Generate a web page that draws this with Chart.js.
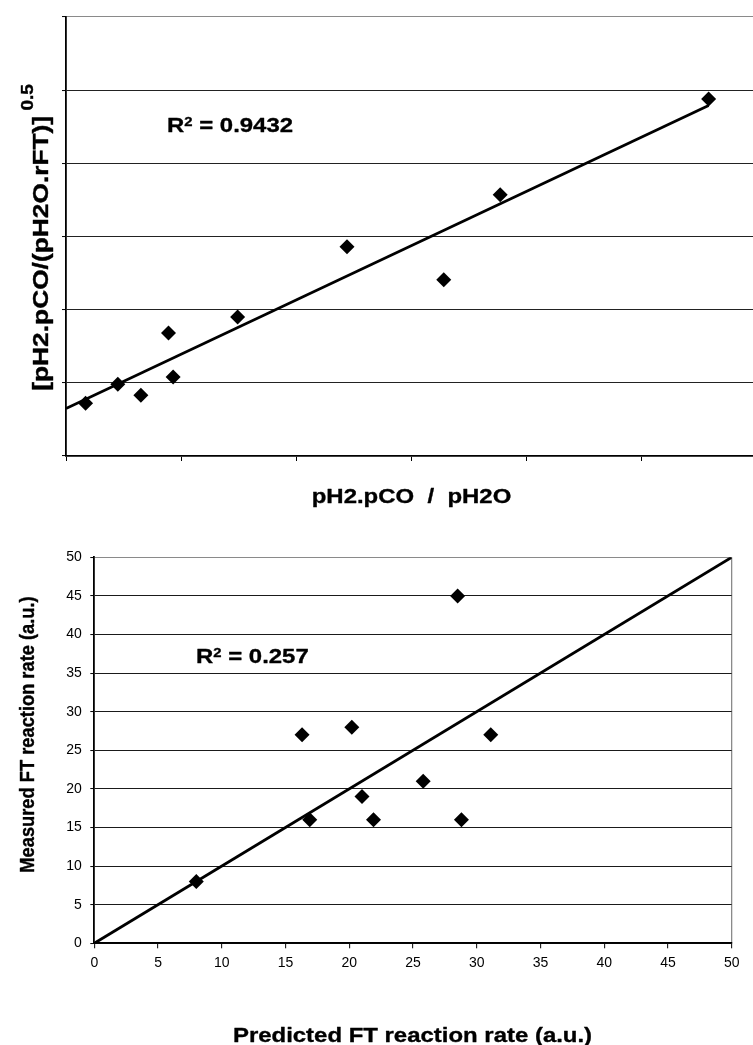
<!DOCTYPE html>
<html>
<head>
<meta charset="utf-8">
<title>FT reaction rate correlation</title>
<script src="https://cdn.jsdelivr.net/npm/chart.js@4/dist/chart.umd.min.js"></script>
<style>
  html, body { margin: 0; padding: 0; background: #fff; overflow: hidden; width: 753px; height: 1045px; }
  #ratioChart { position: absolute; left: 0; top: 0; }
  #parityChart { position: absolute; left: 0; top: 520px; }
</style>
</head>
<body>
<canvas id="ratioChart" width="765" height="520"></canvas>
<canvas id="parityChart" width="753" height="525"></canvas>
<script>
// ---- Upper panel: linearised rate expression ----
const ratioX = [0.17, 0.45, 0.65, 0.89, 0.93, 1.49, 2.44, 3.28, 3.77, 5.58];
const ratioY = [0.72, 0.98, 0.83, 1.68, 1.08, 1.90, 2.86, 2.41, 3.57, 4.88];
const ratioFitX = [0, 5.58];
const ratioFitY = [0.65, 4.79];
const ratioTicksX = [0, 1, 2, 3, 4, 5, 6];
const ratioTicksY = [0, 1, 2, 3, 4, 5, 6];
const ratioR2 = '0.9432';

// ---- Lower panel: measured vs predicted FT rate ----
const predictedRate = [8, 16.3, 16.9, 20.2, 21.0, 21.9, 25.8, 28.5, 28.8, 31.1];
const measuredRate  = [8, 27, 16, 28, 19, 16, 21, 45, 16, 27];
const parityX = [0, 50];
const parityY = [0, 50];
const rateTicks = [0, 5, 10, 15, 20, 25, 30, 35, 40, 45, 50];
const parityR2 = '0.257';

const FONT = "'Liberation Sans', Arial, Helvetica, sans-serif";

function toPoints(xs, ys) { return xs.map((x, i) => ({ x: x, y: ys[i] })); }

// Draws a sequence of bold text runs (for superscripts), optionally rotated
// and stretched along / across the writing direction.
function drawRuns(ctx, spec) {
  ctx.save();
  ctx.translate(spec.x, spec.y);
  if (spec.rot) ctx.rotate(spec.rot * Math.PI / 180);
  ctx.scale(spec.along || 1, spec.across || 1);
  ctx.fillStyle = '#000';
  ctx.strokeStyle = '#000';
  ctx.lineWidth = 0.35;
  ctx.lineJoin = 'round';
  ctx.textBaseline = 'alphabetic';
  ctx.textAlign = 'left';
  let total = 0;
  const widths = spec.runs.map(r => {
    ctx.font = 'bold ' + r.s + 'px ' + FONT;
    const w = ctx.measureText(r.t).width;
    total += w;
    return w;
  });
  let cx = spec.align === 'center' ? -total / 2 : 0;
  spec.runs.forEach((r, i) => {
    ctx.font = 'bold ' + r.s + 'px ' + FONT;
    ctx.fillText(r.t, cx, -(r.rise || 0));
    ctx.strokeText(r.t, cx, -(r.rise || 0));
    cx += widths[i];
  });
  ctx.restore();
}

function textPlugin(specs) {
  return {
    id: 'panelText',
    afterDraw(chart) {
      specs.forEach(s => drawRuns(chart.ctx, s));
    }
  };
}

const fixedTicks = arr => scale => { scale.ticks = arr.map(v => ({ value: v })); };

// Upper chart
new Chart(document.getElementById('ratioChart'), {
  type: 'scatter',
  data: {
    datasets: [
      {
        label: 'data',
        data: toPoints(ratioX, ratioY),
        pointStyle: 'rectRot',
        pointRadius: 7.5,
        pointHoverRadius: 7.5,
        backgroundColor: '#000',
        borderWidth: 0,
        order: 0
      },
      {
        label: 'fit',
        data: toPoints(ratioFitX, ratioFitY),
        showLine: true,
        borderColor: '#000',
        borderWidth: 2.8,
        pointRadius: 0,
        order: 1
      }
    ]
  },
  options: {
    responsive: false,
    animation: false,
    events: [],
    layout: { padding: { left: 0, top: 17, right: 8, bottom: 50 } },
    plugins: { legend: { display: false }, tooltip: { enabled: false } },
    scales: {
      x: {
        type: 'linear', min: 0, max: 6,
        afterBuildTicks: fixedTicks(ratioTicksX),
        afterFit: s => { s.height = 14; },
        ticks: { display: false },
        grid: { drawOnChartArea: false, drawTicks: true, tickLength: 5, tickColor: '#000', tickWidth: 1 },
        border: { display: true, color: '#000', width: 1.8 }
      },
      y: {
        type: 'linear', min: 0, max: 6,
        afterBuildTicks: fixedTicks(ratioTicksY),
        afterFit: s => { s.width = 66; },
        ticks: { display: false },
        grid: {
          color: c => (c.tick && c.tick.value === 6) ? '#8a8a8a' : '#222',
          lineWidth: 1.1, drawTicks: true, tickLength: 4, tickColor: '#000', tickWidth: 1
        },
        border: { display: true, color: '#000', width: 1.8 }
      }
    }
  },
  plugins: [textPlugin([
    { x: 167, y: 131.7, align: 'left', along: 1.14,
      runs: [{ t: 'R', s: 21 }, { t: '2', s: 13, rise: 5.7 }, { t: ' = ' + ratioR2, s: 21 }] },
    { x: 411.5, y: 503.3, align: 'center', along: 1.14,
      runs: [{ t: 'pH2.pCO  /  pH2O', s: 21 }] },
    { x: 48, y: 237.4, rot: -90, align: 'center', along: 1.316, across: 1.12,
      runs: [{ t: '[pH2.pCO/(pH2O.rFT)]', s: 20 }, { t: ' 0.5', s: 14.5, rise: 13 }] }
  ])]
});

// Lower chart
new Chart(document.getElementById('parityChart'), {
  type: 'scatter',
  data: {
    datasets: [
      {
        label: 'data',
        data: toPoints(predictedRate, measuredRate),
        pointStyle: 'rectRot',
        pointRadius: 7.5,
        pointHoverRadius: 7.5,
        backgroundColor: '#000',
        borderWidth: 0,
        order: 0
      },
      {
        label: 'parity',
        data: toPoints(parityX, parityY),
        showLine: true,
        borderColor: '#000',
        borderWidth: 2.8,
        pointRadius: 0,
        order: 1
      }
    ]
  },
  options: {
    responsive: false,
    animation: false,
    events: [],
    layout: { padding: { left: 0, top: 37.3, right: 21.3, bottom: 0 } },
    plugins: { legend: { display: false }, tooltip: { enabled: false } },
    scales: {
      x: {
        type: 'linear', min: 0, max: 50,
        afterBuildTicks: fixedTicks(rateTicks),
        afterFit: s => { s.height = 101.7; },
        ticks: { color: '#000', font: { family: FONT, size: 14 }, padding: 6.6, maxRotation: 0, autoSkip: false },
        grid: {
          color: c => (c.tick && c.tick.value === 50) ? '#8a8a8a' : 'rgba(0,0,0,0)',
          lineWidth: 1.3, drawTicks: true, tickLength: 5, tickColor: '#000', tickWidth: 1
        },
        border: { display: true, color: '#000', width: 1.8 }
      },
      y: {
        type: 'linear', min: 0, max: 50,
        afterBuildTicks: fixedTicks(rateTicks),
        afterFit: s => { s.width = 94.3; },
        ticks: { color: '#000', font: { family: FONT, size: 14 }, padding: 8.6, autoSkip: false },
        grid: {
          color: c => (c.tick && c.tick.value === 50) ? '#8a8a8a' : '#1a1a1a',
          lineWidth: 1.1, drawTicks: true, tickLength: 4, tickColor: '#000', tickWidth: 1
        },
        border: { display: true, color: '#000', width: 1.8 }
      }
    }
  },
  plugins: [textPlugin([
    { x: 196, y: 142.7, align: 'left', along: 1.14,
      runs: [{ t: 'R', s: 21 }, { t: '2', s: 13, rise: 5.7 }, { t: ' = ' + parityR2, s: 21 }] },
    { x: 412.5, y: 521.7, align: 'center', along: 1.14,
      runs: [{ t: 'Predicted FT reaction rate (a.u.)', s: 21 }] },
    { x: 34, y: 214.5, rot: -90, align: 'center', along: 1.0, across: 1.14,
      runs: [{ t: 'Measured FT reaction rate (a.u.)', s: 18.3 }] }
  ])]
});
</script>
</body>
</html>
